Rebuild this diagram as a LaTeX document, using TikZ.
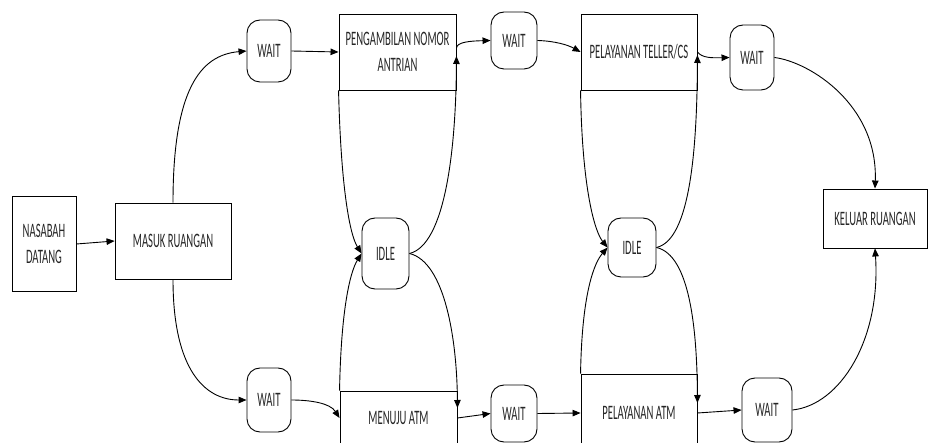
\documentclass[tikz,border=0pt]{standalone}
\usepackage{fontspec}
\setmainfont{Carlito}[FakeStretch=0.52]
\usetikzlibrary{arrows.meta}

\begin{document}
\begin{tikzpicture}[x=1pt,y=-1pt,
  txt/.style={font=\fontsize{20.5}{26}\selectfont, text=black!85, align=center, inner sep=0pt},
  box/.style={txt, draw, line width=0.9pt},
  state/.style={txt, draw, line width=0.9pt, rounded corners=13pt},
  arr/.style={line width=0.9pt, -{Triangle[length=8pt,width=6.5pt]}}
]
\useasboundingbox (0,0) rectangle (929,443);
\clip (0,0) rectangle (929,443);

% process boxes
\node[box, minimum width=64pt, minimum height=95pt] (nas) at (44,244) {NASABAH\\DATANG};
\node[box, minimum width=116pt, minimum height=76pt] (masuk) at (173,241) {MASUK RUANGAN};
\node[box, minimum width=117pt, minimum height=76pt] (peng) at (397.5,52) {PENGAMBILAN NOMOR\\ANTRIAN};
\node[box, minimum width=117pt, minimum height=54pt] (menuju) at (398.5,418) {MENUJU ATM};
\node[box, minimum width=116pt, minimum height=76pt] (tel) at (639,52) {PELAYANAN TELLER/CS};
\node[box, minimum width=116pt, minimum height=78pt] (atm) at (639,413) {PELAYANAN ATM};
\node[box, minimum width=104pt, minimum height=59pt] (kel) at (875,218.5) {KELUAR RUANGAN};

% waiting and idle states
\node[state, minimum width=44pt, minimum height=62pt] (w1) at (269,51) {WAIT};
\node[state, minimum width=44pt, minimum height=64pt] (w2) at (269,400) {WAIT};
\node[state, minimum width=46pt, minimum height=57pt] (w3) at (514,40.5) {WAIT};
\node[state, minimum width=46pt, minimum height=57pt] (w4) at (514,413.5) {WAIT};
\node[state, minimum width=44pt, minimum height=65pt] (w5) at (752,57.5) {WAIT};
\node[state, minimum width=50pt, minimum height=64pt] (w6) at (767,410) {WAIT};
\node[state, minimum width=47pt, minimum height=71pt] (idle1) at (385.5,253.5) {IDLE};
\node[state, minimum width=48pt, minimum height=59pt] (idle2) at (632,247.5) {IDLE};

% entry
\draw[arr] (nas.east) -- (masuk.west);
\draw[arr] (masuk.north) .. controls (173,90) and (200,55) .. (w1.west);
\draw[arr] (masuk.south) .. controls (173,370) and (205,400) .. (w2.west);

% upper lane
\draw[arr] (w1.east) -- (peng.west);
\draw[arr] ([yshift=4pt]peng.east) .. controls (457,42) and (470,41) .. (w3.west);
\draw[arr] (w3.east) .. controls (555,41) and (568,45) .. (tel.west);
\draw[arr] (tel.east) .. controls (702,58) and (712,58) .. (w5.west);
\draw[arr] (w5.east) .. controls (810,62) and (878,105) .. (kel.north);

% lower lane
\draw[arr] (w2.east) .. controls (310,400) and (330,403) .. (menuju.west);
\draw[arr] (menuju.east) -- (w4.west);
\draw[arr] (w4.east) -- (atm.west);
\draw[arr] (atm.east) -- (w6.west);
\draw[arr] (w6.east) .. controls (840,405) and (881,340) .. (kel.south);

% first idle loop
\draw[arr] (peng.south west) .. controls (341,190) and (350,235) .. (idle1.west);
\draw[arr] (menuju.north west) .. controls (341,310) and (350,272) .. (idle1.west);
\draw[arr] (idle1.east) .. controls (445,245) and (456,150) .. ([yshift=-4pt]peng.east);
\draw[arr] (idle1.east) .. controls (445,262) and (457,340) .. ([yshift=10pt]menuju.east);

% second idle loop
\draw[arr] (tel.south west) .. controls (582,190) and (595,232) .. (idle2.west);
\draw[arr] (atm.north west) .. controls (582,290) and (595,262) .. (idle2.west);
\draw[arr] (idle2.east) .. controls (690,240) and (697,150) .. ([yshift=-3pt]tel.east);
\draw[arr] (idle2.east) .. controls (690,255) and (697,330) .. ([yshift=10pt]atm.east);
\end{tikzpicture}
\end{document}
